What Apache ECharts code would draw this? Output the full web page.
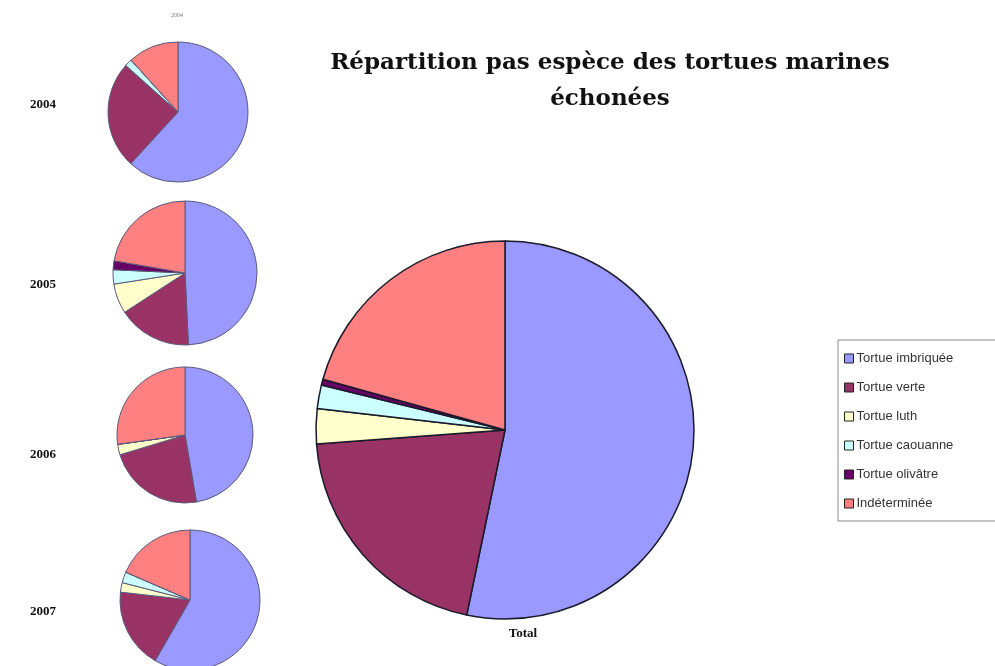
<!DOCTYPE html>
<html>
<head>
<meta charset="utf-8">
<script src="https://cdn.jsdelivr.net/npm/echarts@6/dist/echarts.min.js"></script>
<style>html,body{margin:0;padding:0;background:#fff}#c{width:995px;height:666px}</style>
</head>
<body>
<div id="c"></div>
<script>
const categories = ['Tortue imbriquée','Tortue verte','Tortue luth','Tortue caouanne','Tortue olivâtre','Indéterminée'];
const colors = ['#9999FF','#993366','#FFFFCC','#CCFFFF','#660066','#FF8080'];
const years = ['2004','2005','2006','2007'];
const values2004 = [61.8, 24.8, 0, 1.7, 0, 11.7];
const values2005 = [49.3, 16.6, 6.7, 3.2, 2.0, 22.3];
const values2006 = [47.3, 23.0, 2.5, 0, 0, 27.2];
const values2007 = [58.3, 18.5, 2.2, 2.5, 0, 18.5];
const valuesTotal = [53.3, 20.6, 3.0, 2.0, 0.5, 20.7];
const titleText = 'Répartition pas espèce des tortues marines\néchonées';

const yearValues = [values2004, values2005, values2006, values2007];
const smallCenters = [[178,112],[185,273],[185,435],[190,600]];
const smallRadius = [70,72,68,70];
const yearLabelY = [100,280,450,607];

function mk(vals){
  return categories.map((c,i)=>({name:c, value:vals[i], itemStyle:{color:colors[i]}}));
}
const series = [];
yearValues.forEach((v,k)=>{
  series.push({
    type:'pie', name:years[k], center:smallCenters[k], radius:[0,smallRadius[k]],
    startAngle:90, clockwise:true, silent:true, animation:false,
    label:{show:false}, labelLine:{show:false},
    itemStyle:{borderColor:'#5a5a7a', borderWidth:1},
    data:mk(v)
  });
});
series.push({
  type:'pie', name:'Total', center:[505,430], radius:[0,189],
  startAngle:90, clockwise:true, silent:true, animation:false,
  label:{show:false}, labelLine:{show:false},
  itemStyle:{borderColor:'#1a1a2a', borderWidth:1.5},
  data:mk(valuesTotal)
});

const titles = [{
  text:titleText, left:605, top:40, textAlign:'center',
  textStyle:{fontFamily:'DejaVu Serif', fontWeight:'bold', fontSize:23, lineHeight:36, color:'#111'}
},{
  text:'Total', left:518, top:622, textAlign:'center',
  textStyle:{fontFamily:'Liberation Serif', fontWeight:'bold', fontSize:13, color:'#111'}
},{
  text:'2004', left:172, top:7, textAlign:'center',
  textStyle:{fontFamily:'Liberation Serif', fontWeight:'normal', fontSize:6, color:'#777'}
}];
years.forEach((y,k)=>{
  titles.push({text:y, left:25, top:yearLabelY[k]-7, textStyle:{fontFamily:'Liberation Serif', fontWeight:'bold', fontSize:13, color:'#111'}});
});

const chart = echarts.init(document.getElementById('c'), null, {renderer:'canvas'});
chart.setOption({
  backgroundColor:'#fff',
  animation:false,
  color:colors,
  title:titles,
  legend:{
    data:categories, orient:'vertical', left:838, top:340,
    padding:[11,60,10,6], itemGap:14, itemWidth:9, itemHeight:9, icon:'rect',
    borderColor:'#888', borderWidth:1,
    itemStyle:{borderColor:'#222', borderWidth:1},
    textStyle:{fontFamily:'Liberation Sans', fontSize:13, lineHeight:15, color:'#333', padding:[0,0,0,-2]}
  },
  series:series
});
</script>
</body>
</html>
